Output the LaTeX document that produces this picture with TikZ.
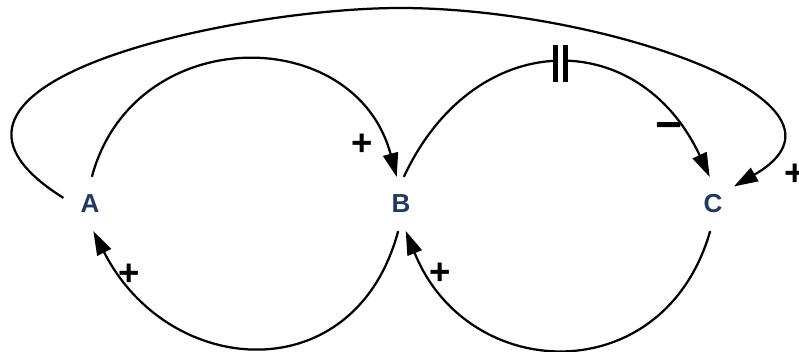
\documentclass[tikz,border=0pt]{standalone}
\usepackage{fontspec}
\setmainfont{Liberation Sans}
\usepackage{xcolor}
\usetikzlibrary{arrows.meta}
\definecolor{varblue}{RGB}{31,56,100}

\begin{document}
\begin{tikzpicture}[x=0.025cm,y=0.025cm,
    >={Triangle[length=6mm,width=3.8mm]},
    var/.style={circle,minimum size=1.35cm,inner sep=0pt,text=varblue,
      font=\fontsize{18.5}{20}\selectfont\bfseries},
    link/.style={->,line width=1.6pt},
    sign/.style={font=\fontsize{26}{28}\selectfont\bfseries}]
    \useasboundingbox (0,0) rectangle (799,352);
    \node[var] (A) at (90,148) {A};
    \node[var] (B) at (401,148) {B};
    \node[var] (C) at (713,148) {C};
    \coordinate (top) at (400,344);
    % loops between the variables
    \draw[link] (A.86) to[out=75,in=105,looseness=1.35] (B.99);
    \draw[link] (B.84) to[out=65,in=115,looseness=1.4]
      coordinate[pos=0.51] (delay) (C.97);
    \draw[link] (C.-96) to[out=-106,in=-68,looseness=1.4] (B.-80);
    \draw[link] (B.-96) to[out=-105,in=-63,looseness=1.4] (A.-83);
    \draw[link] (A.167) to[out=148,in=180,out distance=5.5cm,in distance=4cm] (top)
      to[out=0,in=30,out distance=5cm,in distance=4.2cm] (C.40);
    % delay mark
    \fill[white] (delay) ++(-2.5,-6) rectangle ++(5,12);
    \draw[line width=3.5pt] (delay) ++(-5,-18.5) -- ++(0,37);
    \draw[line width=3.5pt] (delay) ++(5,-18.5) -- ++(0,37);
    % polarities
    \node[sign] (sAB) at (362,207) {+};
    \node[sign] (sBA) at (129,77) {+};
    \node[sign] (sCB) at (440,78) {+};
    \node[sign,font=\fontsize{33}{34}\selectfont\bfseries] (sBC) at (669,220) {−};
    \node[sign] (sAC) at (795,177) {+};
\end{tikzpicture}
\end{document}
